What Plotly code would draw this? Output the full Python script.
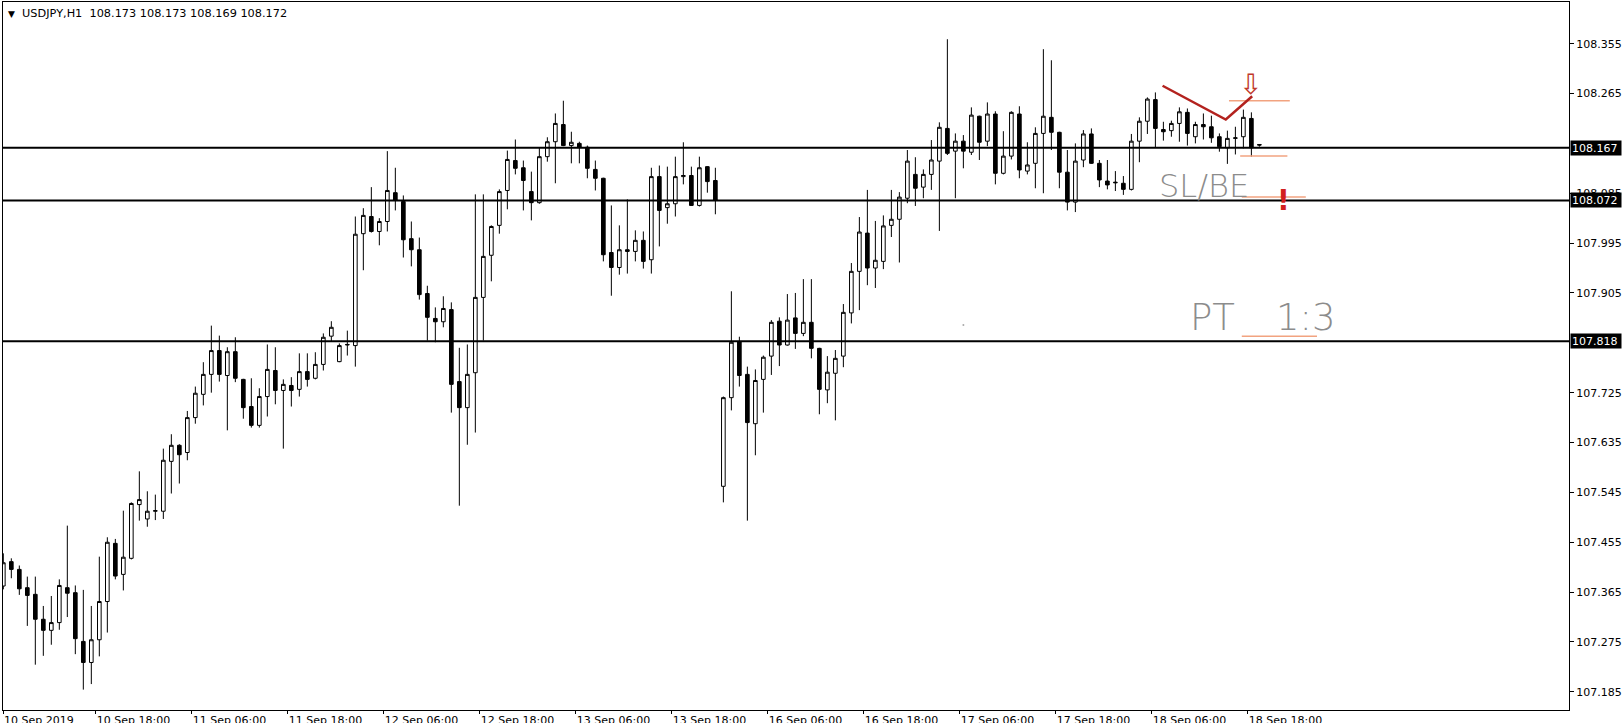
import plotly.graph_objects as go

# ---------------- data (USDJPY H1, bar index 0 = 10 Sep 2019 06:00) ----------------
opens = [107.376, 107.420, 107.406, 107.373, 107.361, 107.316, 107.296, 107.310, 107.373, 107.364,
         107.276, 107.238, 107.279, 107.348, 107.453, 107.397, 107.426, 107.523, 107.497, 107.511,
         107.511, 107.601, 107.630, 107.617, 107.680, 107.722, 107.758, 107.801, 107.756, 107.799,
         107.749, 107.700, 107.666, 107.718, 107.765, 107.729, 107.738, 107.731, 107.763, 107.751,
         107.776, 107.827, 107.781, 107.811, 107.810, 108.012, 108.043, 108.016, 108.034, 108.086,
         108.070, 108.003, 107.983, 107.904, 107.859, 107.853, 107.875, 107.745, 107.698, 107.761,
         107.897, 107.973, 108.027, 108.090, 108.144, 108.131, 108.088, 108.068, 108.151, 108.178,
         108.209, 108.171, 108.175, 108.168, 108.128, 108.112, 107.978, 107.951, 107.983, 107.980,
         108.000, 107.965, 108.115, 108.059, 108.066, 108.115, 108.117, 108.063, 108.133, 108.108,
         107.556, 107.716, 107.817, 107.758, 107.669, 107.749, 107.791, 107.854, 107.811, 107.860,
         107.832, 107.852, 107.805, 107.730, 107.760, 107.791, 107.869, 107.944, 108.013, 107.950,
         107.962, 108.027, 108.038, 108.076, 108.119, 108.096, 108.119, 108.143, 108.202, 108.161,
         108.179, 108.159, 108.224, 108.179, 108.228, 108.121, 108.152, 108.228, 108.125, 108.139,
         108.193, 108.222, 108.195, 108.123, 108.069, 108.145, 108.192, 108.139, 108.107, 108.105,
         108.103, 108.092, 108.179, 108.215, 108.254, 108.200, 108.198, 108.211, 108.231, 108.187,
         108.209, 108.205, 108.187, 108.167, 108.184, 108.187, 108.220, 108.173]
highs = [107.435, 107.426, 107.413, 107.393, 107.393, 107.340, 107.358, 107.388, 107.485, 107.377,
         107.369, 107.340, 107.429, 107.464, 107.461, 107.512, 107.527, 107.583, 107.547, 107.541,
         107.624, 107.650, 107.632, 107.692, 107.736, 107.780, 107.846, 107.828, 107.807, 107.825,
         107.750, 107.751, 107.733, 107.812, 107.807, 107.749, 107.753, 107.796, 107.796, 107.798,
         107.832, 107.854, 107.814, 107.837, 108.043, 108.058, 108.096, 108.040, 108.161, 108.131,
         108.081, 108.034, 108.005, 107.918, 107.879, 107.899, 107.888, 107.806, 107.812, 108.083,
         108.083, 108.027, 108.092, 108.162, 108.182, 108.144, 108.124, 108.168, 108.186, 108.229,
         108.252, 108.196, 108.178, 108.171, 108.144, 108.113, 108.063, 108.027, 108.074, 108.018,
         108.016, 108.131, 108.135, 108.133, 108.151, 108.177, 108.133, 108.151, 108.134, 108.131,
         107.718, 107.908, 107.826, 107.772, 107.767, 107.792, 107.856, 107.861, 107.903, 107.905,
         107.930, 107.930, 107.806, 107.791, 107.802, 107.885, 107.959, 108.042, 108.091, 108.035,
         108.045, 108.091, 108.087, 108.163, 108.150, 108.128, 108.181, 108.213, 108.363, 108.193,
         108.190, 108.240, 108.225, 108.249, 108.233, 108.197, 108.233, 108.242, 108.177, 108.204,
         108.345, 108.325, 108.196, 108.163, 108.175, 108.199, 108.202, 108.145, 108.145, 108.125,
         108.116, 108.192, 108.222, 108.258, 108.267, 108.214, 108.216, 108.240, 108.238, 108.214,
         108.229, 108.225, 108.193, 108.198, 108.205, 108.236, 108.231, 108.173]
lows = [107.370, 107.390, 107.360, 107.304, 107.234, 107.250, 107.270, 107.297, 107.320, 107.253,
        107.189, 107.199, 107.249, 107.292, 107.388, 107.368, 107.424, 107.494, 107.483, 107.495,
        107.497, 107.543, 107.561, 107.603, 107.669, 107.702, 107.725, 107.745, 107.657, 107.744,
        107.678, 107.662, 107.662, 107.682, 107.704, 107.624, 107.700, 107.718, 107.736, 107.749,
        107.765, 107.818, 107.780, 107.792, 107.772, 107.946, 108.014, 107.991, 108.016, 108.054,
        107.969, 107.953, 107.893, 107.819, 107.816, 107.843, 107.689, 107.521, 107.631, 107.653,
        107.819, 107.926, 108.012, 108.056, 108.119, 108.054, 108.036, 108.066, 108.142, 108.103,
        108.170, 108.139, 108.139, 108.112, 108.090, 107.962, 107.900, 107.938, 107.940, 107.962,
        107.949, 107.940, 107.989, 108.030, 108.043, 108.101, 108.062, 108.061, 108.086, 108.047,
        107.527, 107.693, 107.736, 107.494, 107.612, 107.689, 107.757, 107.773, 107.810, 107.804,
        107.827, 107.787, 107.686, 107.706, 107.675, 107.771, 107.850, 107.874, 107.919, 107.914,
        107.948, 108.006, 107.960, 108.067, 108.062, 108.076, 108.091, 108.017, 108.154, 108.076,
        108.130, 108.154, 108.145, 108.170, 108.101, 108.119, 108.146, 108.112, 108.119, 108.094,
        108.085, 108.163, 108.094, 108.054, 108.051, 108.132, 108.138, 108.096, 108.092, 108.089,
        108.082, 108.090, 108.141, 108.192, 108.167, 108.180, 108.187, 108.178, 108.171, 108.175,
        108.182, 108.176, 108.160, 108.138, 108.155, 108.166, 108.151, 108.169]
closes = [107.418, 107.406, 107.371, 107.359, 107.316, 107.296, 107.310, 107.377, 107.363, 107.281,
          107.238, 107.279, 107.348, 107.455, 107.394, 107.428, 107.525, 107.532, 107.511, 107.512,
          107.603, 107.630, 107.613, 107.680, 107.724, 107.758, 107.801, 107.758, 107.799, 107.751,
          107.698, 107.666, 107.718, 107.767, 107.729, 107.740, 107.729, 107.763, 107.749, 107.776,
          107.825, 107.843, 107.810, 107.812, 108.011, 108.045, 108.016, 108.034, 108.090, 108.072,
          108.001, 107.983, 107.902, 107.861, 107.853, 107.877, 107.740, 107.698, 107.758, 107.897,
          107.971, 108.025, 108.088, 108.146, 108.130, 108.108, 108.068, 108.151, 108.178, 108.211,
          108.171, 108.177, 108.168, 108.130, 108.112, 107.974, 107.951, 107.983, 107.980, 108.000,
          107.962, 108.115, 108.054, 108.066, 108.115, 108.117, 108.063, 108.131, 108.106, 108.072,
          107.716, 107.816, 107.756, 107.671, 107.747, 107.789, 107.852, 107.811, 107.856, 107.832,
          107.852, 107.805, 107.731, 107.762, 107.787, 107.870, 107.944, 108.015, 107.950, 107.964,
          108.026, 108.038, 108.078, 108.143, 108.094, 108.119, 108.145, 108.204, 108.157, 108.179,
          108.161, 108.226, 108.177, 108.228, 108.121, 108.152, 108.231, 108.127, 108.136, 108.193,
          108.224, 108.195, 108.123, 108.069, 108.143, 108.192, 108.139, 108.109, 108.100, 108.104,
          108.092, 108.179, 108.215, 108.255, 108.202, 108.196, 108.211, 108.232, 108.193, 108.209,
          108.205, 108.185, 108.169, 108.184, 108.185, 108.222, 108.167, 108.172]

bar_index = list(range(len(opens)))

time_tick_index = [0, 12, 24, 36, 48, 60, 72, 84, 96, 108, 120, 132, 144, 156]
time_tick_text = ["10 Sep 2019", "10 Sep 18:00", "11 Sep 06:00", "11 Sep 18:00", "12 Sep 06:00",
                  "12 Sep 18:00", "13 Sep 06:00", "13 Sep 18:00", "16 Sep 06:00", "16 Sep 18:00",
                  "17 Sep 06:00", "17 Sep 18:00", "18 Sep 06:00", "18 Sep 18:00"]

price_ticks = [108.355, 108.265, 108.085, 107.995, 107.905, 107.725, 107.635,
               107.545, 107.455, 107.365, 107.275, 107.185]

level_prices = [108.167, 108.072, 107.818]

header = "USDJPY,H1  108.173 108.173 108.169 108.172"

# hand drawings (bar index, price)
trend_x = [144.9, 152.8, 156.1]
trend_y = [108.279, 108.218, 108.260]
orange_x0 = [153.2, 154.6, 154.8, 154.8]
orange_x1 = [160.8, 160.5, 162.8, 164.2]
orange_y = [108.252, 108.152, 108.078, 107.827]

FONT = "DejaVu Sans"
X_MIN, X_MAX = -0.04, 195.7

fig = go.Figure()
fig.add_trace(go.Candlestick(
    x=bar_index, open=opens, high=highs, low=lows, close=closes,
    increasing=dict(line=dict(color="black", width=1), fillcolor="white"),
    decreasing=dict(line=dict(color="black", width=1), fillcolor="black"),
    whiskerwidth=0, hoverinfo="skip", showlegend=False,
))

# orange short lines
ox, oy = [], []
for a, b, y in zip(orange_x0, orange_x1, orange_y):
    ox += [a, b, None]
    oy += [y, y, None]
fig.add_trace(go.Scatter(x=ox, y=oy, mode="lines", line=dict(color="#f2a380", width=1.5),
                         hoverinfo="skip", showlegend=False))
# red trend line
fig.add_trace(go.Scatter(x=trend_x, y=trend_y, mode="lines", line=dict(color="#b3221e", width=2.5),
                         hoverinfo="skip", showlegend=False))
# tiny dot
fig.add_trace(go.Scatter(x=[120], y=[107.847], mode="markers",
                         marker=dict(color="#aaaaaa", size=2), hoverinfo="skip", showlegend=False))

shapes = []
for p in level_prices:
    shapes.append(dict(type="line", xref="paper", x0=0, x1=1, yref="y", y0=p, y1=p,
                       line=dict(color="black", width=2), layer="above"))

annotations = []
for p in level_prices:
    annotations.append(dict(xref="paper", x=1, xanchor="left", xshift=1, yref="y", y=p,
                            yanchor="middle", text=f"{p:.3f}", showarrow=False,
                            bgcolor="black", font=dict(family=FONT, size=11, color="white"),
                            width=48, height=12, align="left", borderpad=1))
annotations.append(dict(xref="paper", x=0, xanchor="left", xshift=3, yref="paper", y=1,
                        yanchor="top", yshift=-3, showarrow=False,
                        text="<span style='font-size:9px'>▼</span>  " + header,
                        font=dict(family=FONT, size=11.3, color="black")))
thin = dict(family=FONT, color="#8c8c8c", weight=200)
annotations.append(dict(x=150.1, y=108.098, text="SL/BE", showarrow=False,
                        font=dict(thin, size=32)))
annotations.append(dict(x=151.2, y=107.860, text="PT", showarrow=False,
                        font=dict(thin, size=37)))
annotations.append(dict(x=162.8, y=107.860, text="1:3", showarrow=False,
                        font=dict(thin, size=37)))
annotations.append(dict(x=160.0, y=108.071, text="<b>!</b>", showarrow=False,
                        font=dict(family=FONT, size=28, color="#d21f1f")))
annotations.append(dict(x=155.9, y=108.282, text="⇩", showarrow=False,
                        font=dict(family=FONT, size=28, color="#c0392b")))

x_tickvals = [max(k - 0.45, X_MIN + 0.01) for k in time_tick_index]

fig.update_layout(
    width=1624, height=723,
    margin=dict(l=3, r=55, t=2, b=13, autoexpand=False),
    paper_bgcolor="white", plot_bgcolor="white",
    showlegend=False, boxgap=0.35,
    shapes=shapes, annotations=annotations,
    xaxis=dict(range=[X_MIN, X_MAX], rangeslider=dict(visible=False), automargin=False,
               showgrid=False, zeroline=False, showline=True, linecolor="black", linewidth=1,
               mirror=True, ticks="outside", ticklen=3, tickcolor="black",
               tickvals=x_tickvals, ticktext=time_tick_text,
               ticklabelposition="outside right",
               tickfont=dict(family=FONT, size=11, color="black")),
    yaxis=dict(range=[107.1522, 108.4302], side="right", automargin=False,
               showgrid=False, zeroline=False, showline=True, linecolor="black", linewidth=1,
               mirror=True, ticks="outside", ticklen=4, tickcolor="black",
               tickvals=price_ticks, ticktext=[f"{v:.3f}" for v in price_ticks],
               tickfont=dict(family=FONT, size=11, color="black")),
)

fig.write_html("out.html", config={"displayModeBar": False})

# remove the default page margin so the figure fills the window exactly
with open("out.html", encoding="utf-8") as fh:
    html = fh.read()
html = html.replace("<head>", "<head><style>html,body{margin:0;padding:0;overflow:hidden;}</style>", 1)
with open("out.html", "w", encoding="utf-8") as fh:
    fh.write(html)
